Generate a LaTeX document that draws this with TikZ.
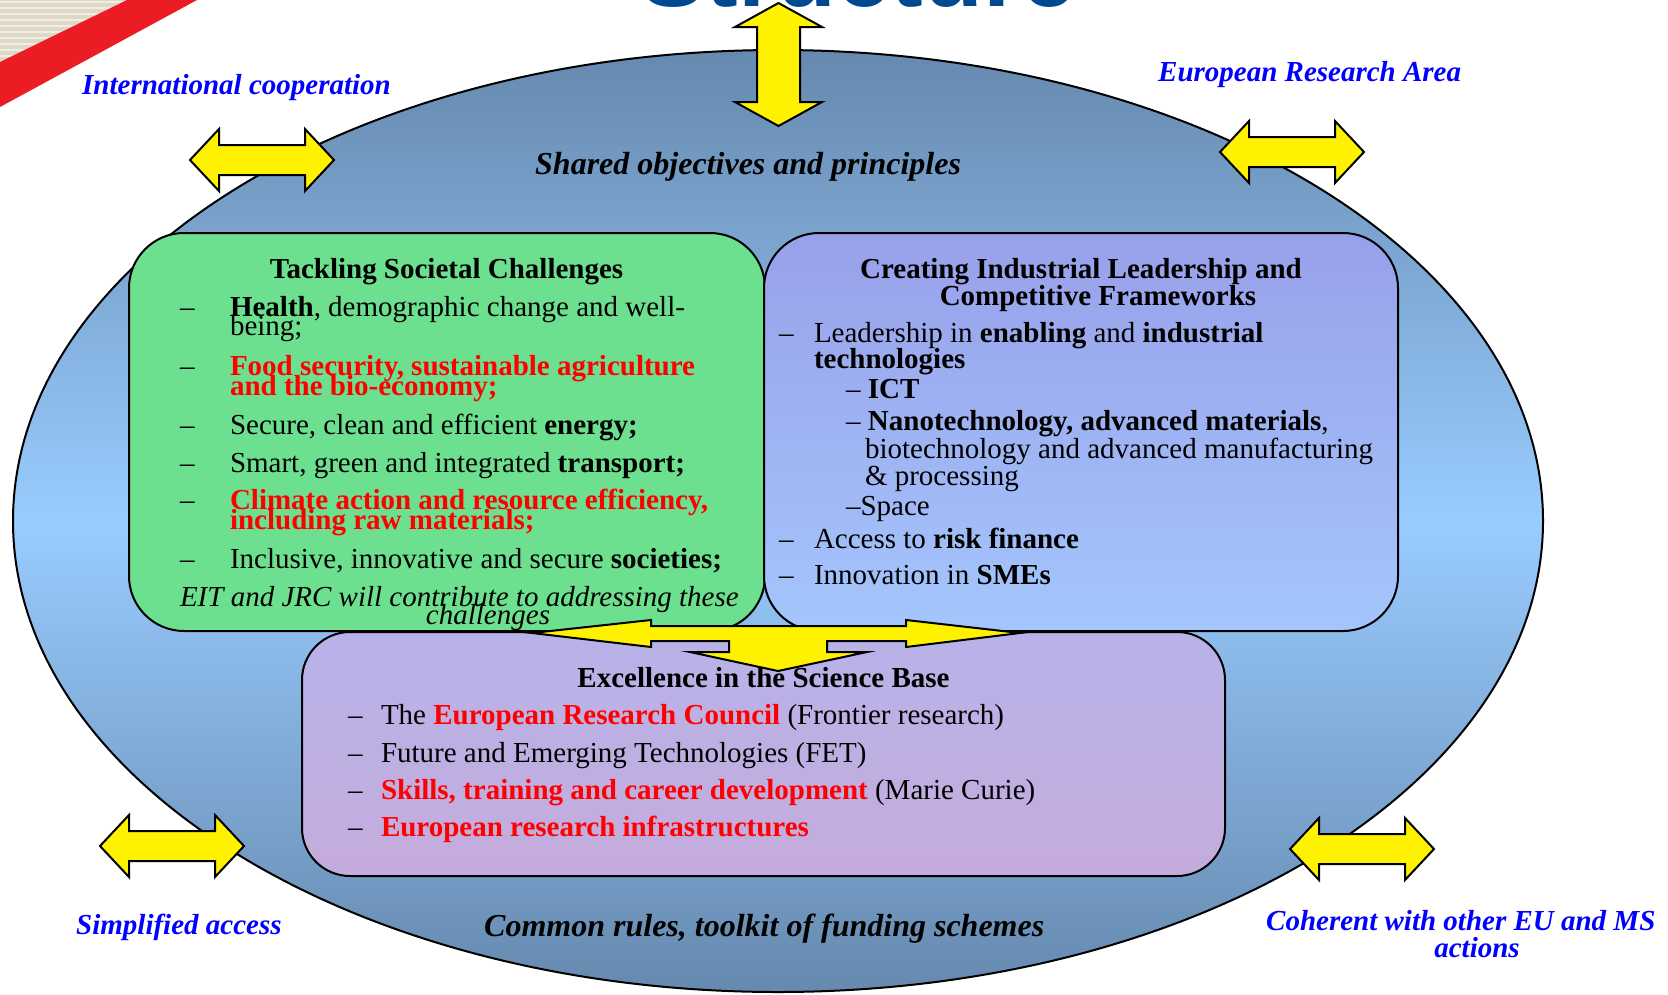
\documentclass[tikz,border=0pt]{standalone}
\usepackage{fontspec}
\setmainfont{Liberation Serif}
\newfontfamily\titlefont{Liberation Sans}
\usetikzlibrary{shapes.geometric}
\definecolor{ellmid}{RGB}{153,204,255}
\definecolor{elledge}{RGB}{102,137,174}
\definecolor{gbox}{RGB}{108,224,142}
\definecolor{ptop}{RGB}{152,160,234}
\definecolor{pbot}{RGB}{164,198,252}
\definecolor{btop}{RGB}{184,178,232}
\definecolor{bbot}{RGB}{196,172,220}
\definecolor{rtxt}{RGB}{255,0,0}
\definecolor{btxt}{RGB}{0,0,255}
\definecolor{ttl}{RGB}{0,72,144}
\definecolor{stripe}{RGB}{236,28,36}
\definecolor{beige}{RGB}{222,216,198}
\newcommand\fsz[1]{\fontsize{#1}{#1}\selectfont}
\newcommand\rb[1]{\textcolor{rtxt}{\bfseries #1}}
\begin{document}
\begin{tikzpicture}[x=1pt,y=-1pt,
  bodytxt/.style={inner sep=0pt, outer sep=0pt, anchor=base west, font=\fsz{29}},
  ctrtxt/.style={bodytxt, anchor=base},
  outerlbl/.style={inner sep=0pt, anchor=base west, text=btxt, font=\fsz{29}\bfseries\itshape},
  keylbl/.style={inner sep=0pt, anchor=base west, font=\fsz{32}\bfseries\itshape},
  yarrow/.style={fill=yellow, draw=black, line width=2pt, line join=miter},
  panel/.style={draw=black, line width=2pt, inner sep=0pt, outer sep=0pt, anchor=north west},
  hdbl/.pic={\draw[yarrow] (-72,0) -- (-43,-31) -- (-43,-15) -- (43,-15) -- (43,-31) -- (72,0) -- (43,31) -- (43,15) -- (-43,15) -- (-43,31) -- cycle;}
]
\useasboundingbox (0,0) rectangle (1668,994);
\clip (0,0) rectangle (1668,994);
\fill[white] (0,0) rectangle (1668,994);

% corner decoration
\begin{scope}
  \clip (0,0) -- (127,0) -- (0,62) -- cycle;
  \fill[beige] (0,0) rectangle (130,65);
  \foreach \yy in {2,8,...,62} \draw[white!55!beige, line width=2] (0,\yy) -- (130,\yy);
\end{scope}
\fill[stripe] (127,0) -- (197,0) -- (0,107) -- (0,62) -- cycle;

% title (cut off at the top)
\node[inner sep=0pt, anchor=base, font=\titlefont\bfseries\fsz{98}, text=ttl] (title) at (858,6) {Structure};

% main ellipse
\node[ellipse, draw=black, line width=2pt, inner sep=0pt, outer sep=0pt,
      minimum width=1530pt, minimum height=942pt,
      top color=elledge, bottom color=elledge, middle color=ellmid] (ell) at (778,521) {};

% outer block arrows
\draw[yarrow] (778.5,3) -- (822,27) -- (800,27) -- (800,102) -- (822,102) -- (778.5,126)
  -- (735,102) -- (757,102) -- (757,27) -- (735,27) -- cycle;
\pic at (262,160) {hdbl};
\pic at (1292,152) {hdbl};
\pic at (172,846) {hdbl};
\pic at (1362,849) {hdbl};

% outer labels
\node[outerlbl] (intl) at (82,94) {International cooperation};
\node[outerlbl] (era) at (1158,81) {European Research Area};
\node[outerlbl] (simpl) at (76,934) {Simplified access};
\node[outerlbl] (coh1) at (1266,930) {Coherent with other EU and MS};
\node[outerlbl, anchor=base] (coh2) at (1477,957) {actions};
\node[keylbl] (shared) at (535,174) {Shared objectives and principles};
\node[keylbl] (common) at (484,936) {Common rules, toolkit of funding schemes};

% panels
\node[panel, rounded corners=55pt, minimum width=636pt, minimum height=398pt, fill=gbox] (green) at (129,233) {};
\node[panel, rounded corners=55pt, minimum width=634pt, minimum height=398pt, top color=ptop, bottom color=pbot] (purple) at (764,233) {};

% green panel text
\node[ctrtxt, font=\fsz{29}\bfseries] (gt) at (446.5,278) {Tackling Societal Challenges};
\foreach \yy/\nm in {316/gd1,375/gd2,434/gd3,472/gd4,509/gd5,568/gd6}
  \node[bodytxt] (\nm) at (180,\yy) {--};
\node[bodytxt] (g1a) at (230,316) {\textbf{Health}, demographic change and well-};
\node[bodytxt] (g1b) at (230,335) {being;};
\node[bodytxt] (g2a) at (230,375) {\rb{Food security, sustainable agriculture}};
\node[bodytxt] (g2b) at (230,395) {\rb{and the bio-economy;}};
\node[bodytxt] (g3) at (230,434) {Secure, clean and efficient \textbf{energy;}};
\node[bodytxt] (g4) at (230,472) {Smart, green and integrated \textbf{transport;}};
\node[bodytxt] (g5a) at (230,509) {\rb{Climate action and resource efficiency,}};
\node[bodytxt] (g5b) at (230,529) {\rb{including raw materials;}};
\node[bodytxt] (g6) at (230,568) {Inclusive, innovative and secure \textbf{societies;}};
\node[bodytxt, font=\fsz{29}\itshape] (eit) at (180,606) {EIT and JRC will contribute to addressing these};
\node[ctrtxt, font=\fsz{29}\itshape] (eitb) at (488,624) {challenges};

% purple panel text
\node[ctrtxt, font=\fsz{29}\bfseries] (pt1) at (1081,278) {Creating Industrial Leadership and};
\node[ctrtxt, font=\fsz{29}\bfseries] (pt2) at (1098,305) {Competitive Frameworks};
\foreach \yy/\nm in {342/pd1,548/pd2,584/pd3}
  \node[bodytxt] (\nm) at (779,\yy) {--};
\node[bodytxt] (p1a) at (814,342) {Leadership in \textbf{enabling} and \textbf{industrial}};
\node[bodytxt] (p1b) at (814,368) {\textbf{technologies}};
\node[bodytxt] (p2) at (846,398) {-- \textbf{ICT}};
\node[bodytxt] (p3a) at (846,430) {-- \textbf{Nanotechnology, advanced materials},};
\node[bodytxt] (p3b) at (865,458) {biotechnology and advanced manufacturing};
\node[bodytxt] (p3c) at (865,485) {\& processing};
\node[bodytxt] (p4) at (846,515) {--Space};
\node[bodytxt] (p5) at (814,548) {Access to \textbf{risk finance}};
\node[bodytxt] (p6) at (814,584) {Innovation in \textbf{SMEs}};

% bottom panel
\node[panel, rounded corners=48pt, minimum width=923pt, minimum height=244pt, top color=btop, bottom color=bbot] (base) at (302,632) {};
\node[ctrtxt, font=\fsz{29}\bfseries] (bt) at (763.5,687) {Excellence in the Science Base};
\foreach \yy/\nm in {724/bd1,762/bd2,799/bd3,836/bd4}
  \node[bodytxt] (\nm) at (348,\yy) {--};
\node[bodytxt] (b1) at (381,724) {The \rb{European Research Council} (Frontier research)};
\node[bodytxt] (b2) at (381,762) {Future and Emerging Technologies (FET)};
\node[bodytxt] (b3) at (381,799) {\rb{Skills, training and career development} (Marie Curie)};
\node[bodytxt] (b4) at (381,836) {\rb{European research infrastructures}};

% three-way block arrow
\draw[yarrow] (532,633) -- (651,620) -- (651,626) -- (906,626) -- (906,620) -- (1020,633)
  -- (906,647) -- (906,641) -- (827,641) -- (827,652) -- (867,652) -- (778,671)
  -- (690,652) -- (729,652) -- (729,641) -- (651,641) -- (651,647) -- cycle;
\end{tikzpicture}
\end{document}
